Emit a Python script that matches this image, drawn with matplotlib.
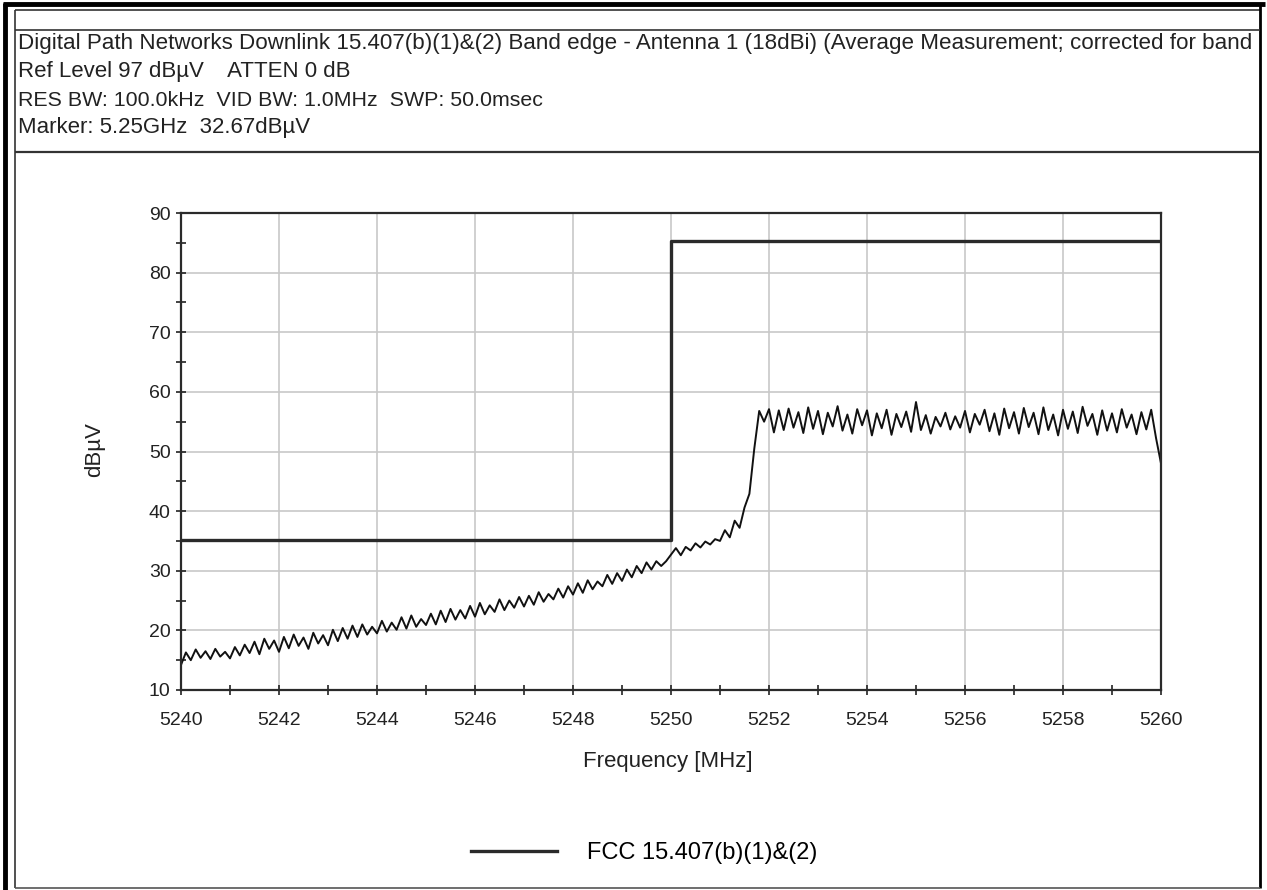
import matplotlib
matplotlib.use("Agg")
import matplotlib.pyplot as plt
import numpy as np
from matplotlib.lines import Line2D
from matplotlib.ticker import MultipleLocator

plt.rcParams['font.family'] = ['Liberation Sans', 'DejaVu Sans']

W, H = 1267, 890

# header text (first line is cut at the right edge in the original)
header_lines = [
    "Digital Path Networks Downlink 15.407(b)(1)&(2) Band edge - Antenna 1 (18dBi) (Average Measurement; corrected for band",
    "Ref Level 97 dB\u00b5V    ATTEN 0 dB",
    "RES BW: 100.0kHz  VID BW: 1.0MHz  SWP: 50.0msec",
    "Marker: 5.25GHz  32.67dB\u00b5V",
]
header_sizes = [16.1, 16, 15.4, 16]

# FCC limit line (step)
limit_freq = [5240, 5250, 5250, 5260]
limit_level = [35.2, 35.2, 85.3, 85.3]
limit_label = "FCC 15.407(b)(1)&(2)"

trace_level = [
    14.2, 16.3, 15.0, 16.8, 15.4, 16.5, 15.2, 16.9, 15.6, 16.4, 15.3,
    17.2, 15.8, 17.6, 16.2, 18.1, 16.0, 18.6, 16.9, 18.3, 16.4,
    18.9, 17.0, 19.3, 17.4, 18.8, 16.9, 19.6, 17.8, 19.2, 17.5,
    20.1, 18.2, 20.4, 18.6, 20.8, 18.9, 21.0, 19.3, 20.6, 19.5,
    21.6, 19.8, 21.3, 20.1, 22.2, 20.3, 22.5, 20.6, 21.9, 20.9,
    22.8, 21.0, 23.3, 21.4, 23.6, 21.8, 23.4, 22.0, 24.1, 22.3,
    24.6, 22.7, 24.2, 23.1, 25.2, 23.4, 25.0, 23.8, 25.6, 24.0,
    25.8, 24.3, 26.4, 24.8, 26.1, 25.2, 27.0, 25.5, 27.4, 26.0,
    27.9, 26.3, 28.4, 26.9, 28.2, 27.4, 29.3, 27.8, 29.6, 28.3,
    30.2, 28.9, 30.8, 29.6, 31.4, 30.2, 31.6, 30.8, 31.6, 32.7,
    33.8, 32.6, 34.0, 33.4, 34.6, 33.9, 34.9, 34.4, 35.3, 35.0,
    36.8, 35.6, 38.4, 37.2, 40.6, 42.9, 50.5, 56.8, 55.0, 57.1,
    53.2, 56.9, 53.6, 57.2, 54.0, 56.6, 53.1, 57.4, 53.8, 56.8,
    52.9, 56.5, 54.2, 57.6, 53.5, 56.2, 53.0, 57.1, 54.4, 56.9,
    52.7, 56.4, 53.9, 57.0, 52.8, 56.3, 54.1, 56.7, 53.3, 58.3,
    53.6, 56.1, 53.0, 55.8, 54.2, 56.5, 53.7, 55.9, 54.0, 56.8,
    53.2, 56.3, 54.5, 57.0, 53.4, 56.4, 52.8, 57.2, 53.9, 56.6,
    53.0, 57.3, 54.1, 56.5, 52.9, 57.4, 53.6, 56.2, 52.7, 57.0,
    53.8, 56.7, 53.1, 57.5, 54.3, 56.3, 52.8, 56.9, 53.5, 56.4,
    53.2, 57.1, 54.0, 56.2, 52.9, 56.6, 53.7, 57.0, 52.2, 48.0,
]
trace_freq = np.linspace(5240, 5260, len(trace_level))


def fx(px):
    return px / W


def fy(py):
    return 1 - py / H


fig = plt.figure(figsize=(W / 100, H / 100), dpi=100)

# frame lines
def fline(x0, y0, x1, y1, lw, color='black'):
    fig.add_artist(Line2D([fx(x0), fx(x1)], [fy(y0), fy(y1)], lw=lw, color=color,
                          transform=fig.transFigure, solid_capstyle='butt'))

fline(5, 3, 5, 890, 3.5)
fline(3, 4, 1265, 4, 3.5)
fline(15, 10, 15, 888, 1.2, '#333333')
fline(15, 10, 1260, 10, 1.2, '#333333')
fline(1260, 4, 1260, 888, 2.0)
fline(15, 888, 1260, 888, 1.2, '#555555')
fline(15, 30, 1260, 30, 1.2, '#333333')
fline(15, 152, 1260, 152, 1.6, '#333333')

# header block
for i, txt in enumerate(header_lines):
    fig.text(fx(18), fy(44 + 28 * i), txt, fontsize=header_sizes[i],
             va='center', ha='left', color='#222222')

# main plot
ax = fig.add_axes([fx(181), fy(690), fx(1161) - fx(181), fy(213) - fy(690)])
ax.plot(trace_freq, trace_level, color='#111111', lw=1.4)
ax.plot(limit_freq, limit_level, color='#2a2a2a', lw=2.4, label=limit_label)

ax.set_xlim(5240, 5260)
ax.set_ylim(10, 90)
ax.xaxis.set_major_locator(MultipleLocator(2))
ax.xaxis.set_minor_locator(MultipleLocator(1))
ax.yaxis.set_major_locator(MultipleLocator(10))
ax.yaxis.set_minor_locator(MultipleLocator(5))
ax.grid(True, which='major', color='#c8c8c8', lw=1.2)
ax.set_axisbelow(True)
ax.tick_params(which='both', direction='inout', length=7, width=1.2, color='#222222',
               labelsize=14, labelcolor='#222222')
ax.tick_params(axis='x', which='major', pad=12)
ax.tick_params(axis='y', which='major', pad=4)
for s in ax.spines.values():
    s.set_linewidth(1.6)
    s.set_color('#2a2a2a')

ax.set_xlabel("Frequency [MHz]", fontsize=16, color='#222222', va='center')
ax.xaxis.set_label_coords((668 - 181) / 980, (690 - 762) / 477)
ax.set_ylabel("dB\u00b5V", fontsize=16, color='#222222', va='center')
ax.yaxis.set_label_coords((95 - 181) / 980, (690 - 450) / 477)

fig.legend(loc='center', bbox_to_anchor=(fx(644), fy(853)), frameon=False,
           fontsize=17, handlelength=3.65, handletextpad=1.27)

fig.savefig("out.png", dpi=100, facecolor='white')
